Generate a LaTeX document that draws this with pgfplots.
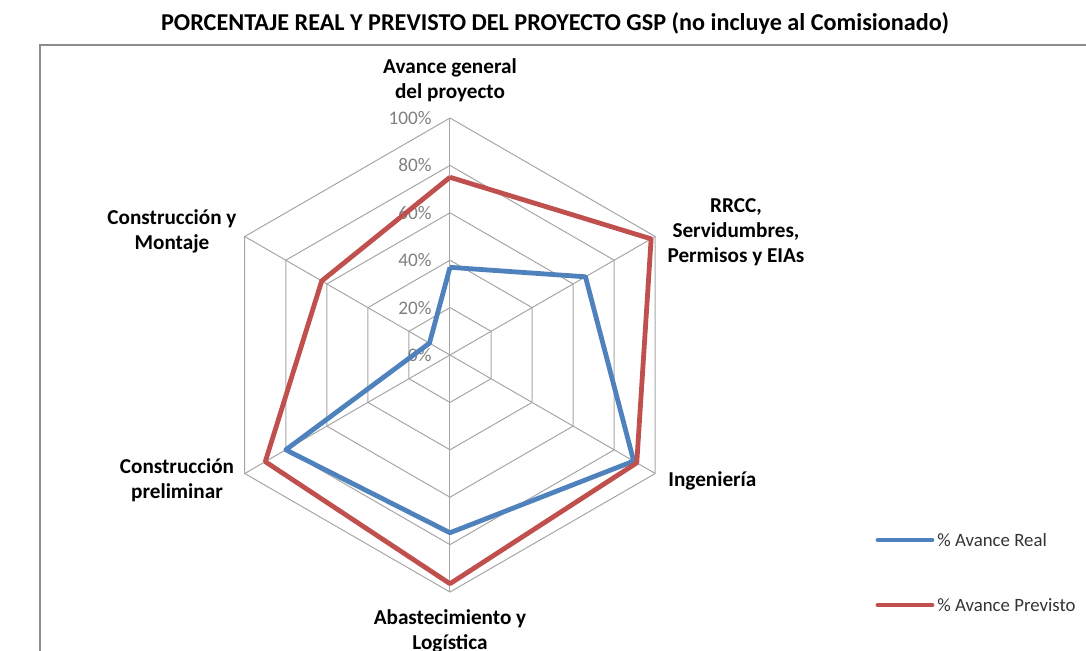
\documentclass[border=0pt]{standalone}
\usepackage{fontspec}
\setmainfont{Carlito}
\usepackage{pgfplots}
\pgfplotsset{compat=1.18}
\usepgfplotslibrary{polar}
\definecolor{realblue}{HTML}{4F81BD}
\definecolor{prevred}{HTML}{C0504D}
\definecolor{gridgray}{HTML}{A6A6A6}
\definecolor{ticktxt}{HTML}{7F7F7F}
\definecolor{frame}{HTML}{8C8C8C}
\begin{document}
\begin{tikzpicture}
\useasboundingbox (-225pt,-147.5pt) rectangle (318pt,177.5pt);
\clip (-225pt,-147.5pt) rectangle (318pt,177.5pt);
\begin{polaraxis}[at={(0pt,0pt)}, anchor=origin, scale only axis,
  width=237pt, height=237pt, xmin=0, xmax=360, ymin=0, ymax=100,
  hide axis, clip=false]
% grid hexagons
\addplot[gridgray, line width=0.5pt, forget plot] coordinates {(90,20) (30,20) (330,20) (270,20) (210,20) (150,20) (90,20)};
\addplot[gridgray, line width=0.5pt, forget plot] coordinates {(90,40) (30,40) (330,40) (270,40) (210,40) (150,40) (90,40)};
\addplot[gridgray, line width=0.5pt, forget plot] coordinates {(90,60) (30,60) (330,60) (270,60) (210,60) (150,60) (90,60)};
\addplot[gridgray, line width=0.5pt, forget plot] coordinates {(90,80) (30,80) (330,80) (270,80) (210,80) (150,80) (90,80)};
\addplot[gridgray, line width=0.5pt, forget plot] coordinates {(90,100) (30,100) (330,100) (270,100) (210,100) (150,100) (90,100)};
% spokes
\addplot[gridgray, line width=0.5pt, forget plot] coordinates {(90,0) (90,100)};
\addplot[gridgray, line width=0.5pt, forget plot] coordinates {(30,0) (30,100)};
\addplot[gridgray, line width=0.5pt, forget plot] coordinates {(330,0) (330,100)};
\addplot[gridgray, line width=0.5pt, forget plot] coordinates {(270,0) (270,100)};
\addplot[gridgray, line width=0.5pt, forget plot] coordinates {(210,0) (210,100)};
\addplot[gridgray, line width=0.5pt, forget plot] coordinates {(150,0) (150,100)};
% tick labels
\foreach \v in {0,20,40,60,80,100} {
  \edef\temp{\noexpand\node[anchor=east, inner sep=0pt, xshift=-9pt, text=ticktxt, font=\noexpand\fontsize{9.6pt}{11pt}\noexpand\selectfont] at (axis cs:90,\v) {\v\noexpand\%};}
  \temp
}
% data
\addplot[realblue, line width=2.4pt, line join=round] coordinates {(90,37) (30,66) (330,89.5) (270,75) (210,80) (150,10) (90,37)};
\addplot[prevred, line width=2.4pt, line join=round] coordinates {(90,75) (30,98) (330,91) (270,96.5) (210,90) (150,62.5) (90,75)};
\end{polaraxis}
% frame
\draw[frame, line width=1pt] (-205pt,-160pt) -- (-205pt,155pt) -- (330pt,155pt);
% title
\node[font=\bfseries\fontsize{12.1pt}{14pt}\selectfont] at (52.5pt,166pt) {PORCENTAJE REAL Y PREVISTO DEL PROYECTO GSP (no incluye al Comisionado)};
% category labels
\begin{scope}[every node/.style={font=\bfseries\fontsize{10.6pt}{12.5pt}\selectfont, align=center, inner sep=0pt}]
\node at (0pt,137.5pt) {Avance general\\del proyecto};
\node at (143pt,61.5pt) {RRCC,\\Servidumbres,\\Permisos y EIAs};
\node[anchor=west] at (109pt,-63pt) {Ingeniería};
\node at (0pt,-138.25pt) {Abastecimiento y\\Logística};
\node at (-136.5pt,-62.75pt) {Construcción\\preliminar};
\node at (-139pt,61.75pt) {Construcción y\\Montaje};
\end{scope}
% legend
\draw[realblue, line width=2.4pt, line cap=round] (214pt,-92.5pt) -- (241pt,-92.5pt);
\node[anchor=west, inner sep=0pt, text=black!80, font=\fontsize{9.4pt}{11pt}\selectfont] at (243.5pt,-92.5pt) {\% Avance Real};
\draw[prevred, line width=2.4pt, line cap=round] (214pt,-125pt) -- (241pt,-125pt);
\node[anchor=west, inner sep=0pt, text=black!80, font=\fontsize{9.4pt}{11pt}\selectfont] at (243.5pt,-125pt) {\% Avance Previsto};
\end{tikzpicture}
\end{document}
